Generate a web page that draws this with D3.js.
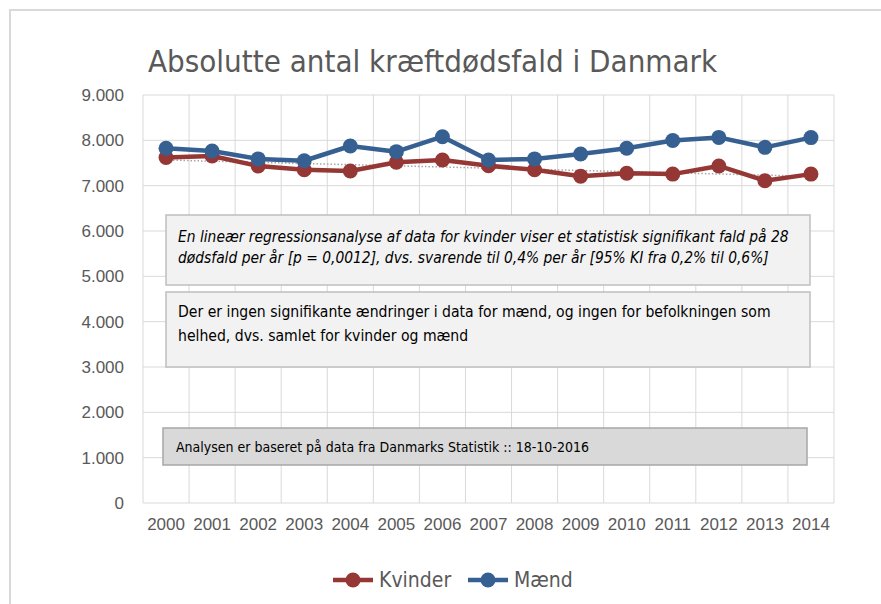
<!DOCTYPE html>
<meta charset="utf-8">
<style>
    body { margin: 0; background: #fff; }
    svg { display: block; font-family: "Liberation Sans Narrow", "DejaVu Sans Condensed", "Liberation Sans", sans-serif; }
    .grid line { stroke: #d9d9d9; stroke-width: 1; }
    .axis text { fill: #595959; }
</style>
<body>
<svg width="881" height="604"></svg>
<script src="https://d3js.org/d3.v7.min.js"></script>
<script>
    // data
    const years = ["2000", "2001", "2002", "2003", "2004", "2005", "2006", "2007",
                   "2008", "2009", "2010", "2011", "2012", "2013", "2014"];
    const kvinder = [7620, 7655, 7435, 7350, 7325, 7515, 7565, 7440, 7350, 7210, 7275, 7255, 7435, 7110, 7255];
    const maend = [7825, 7765, 7590, 7550, 7875, 7750, 8080, 7565, 7590, 7700, 7825, 7995, 8065, 7845, 8060];
    const yTicks = [0, 1000, 2000, 3000, 4000, 5000, 6000, 7000, 8000, 9000];

    const seriesNames = ["Kvinder", "Mænd"];
    const seriesColors = { "Kvinder": "#953735", "Mænd": "#376092" };

    const title = "Absolutte antal kræftdødsfald i Danmark";
    const note1 = ["En lineær regressionsanalyse af data for kvinder viser et statistisk signifikant fald på 28",
                   "dødsfald per år [p = 0,0012], dvs. svarende til 0,4% per år [95% KI fra 0,2% til 0,6%]"];
    const note2 = ["Der er ingen signifikante ændringer i data for mænd, og ingen for befolkningen som",
                   "helhed, dvs. samlet for kvinder og mænd"];
    const note3 = "Analysen er baseret på data fra Danmarks Statistik :: 18-10-2016";

    const svg = d3.select("svg");
    const margin = { top: 95, right: 47, bottom: 101, left: 143 };
    const width = +svg.attr("width");
    const height = +svg.attr("height");

    // chart frame
    svg.append("rect")
        .attr("x", 10).attr("y", 10)
        .attr("width", 900).attr("height", 620)
        .attr("fill", "#fff").attr("stroke", "#d9d9d9").attr("stroke-width", 2);

    svg.append("text")
        .attr("x", 148).attr("y", 72)
        .attr("font-size", 31).attr("fill", "#595959")
        .text(title);

    const x = d3.scaleBand().domain(years)
        .range([margin.left, width - margin.right]);
    const y = d3.scaleLinear().domain([0, 9000])
        .range([height - margin.bottom, margin.top]);

    // horizontal gridlines
    svg.append("g").attr("class", "grid")
        .selectAll("line").data(yTicks).join("line")
        .attr("x1", margin.left).attr("x2", width - margin.right)
        .attr("y1", d => y(d)).attr("y2", d => y(d));

    // vertical gridlines at category borders
    const borders = years.map(d => x(d)).concat([x(years[years.length - 1]) + x.bandwidth()]);
    svg.append("g").attr("class", "grid")
        .selectAll("line").data(borders).join("line")
        .attr("x1", d => d).attr("x2", d => d)
        .attr("y1", y(9000)).attr("y2", y(0));

    const fmt = d3.formatLocale({ decimal: ",", thousands: ".", grouping: [3], currency: ["", " kr."] }).format(",d");

    const yAxis = svg.append("g").attr("class", "axis")
        .attr("transform", `translate(${margin.left - 19},0)`)
        .call(d3.axisLeft(y).tickValues(yTicks).tickFormat(fmt).tickSize(0).tickPadding(0));
    yAxis.select(".domain").remove();
    yAxis.selectAll("text").attr("font-size", 17).attr("font-family", null);

    const xAxis = svg.append("g").attr("class", "axis")
        .attr("transform", `translate(0,${y(0) + 12})`)
        .call(d3.axisBottom(x).tickSize(0).tickPadding(0));
    xAxis.select(".domain").remove();
    xAxis.selectAll("text").attr("font-size", 17).attr("font-family", null).attr("dy", "0.9em");

    // trend line for kvinder (least squares)
    const idx = years.map((d, i) => i);
    const mx = d3.mean(idx), my = d3.mean(kvinder);
    const slope = d3.sum(idx, i => (i - mx) * (kvinder[i] - my)) / d3.sum(idx, i => (i - mx) * (i - mx));
    const icpt = my - slope * mx;
    svg.append("line")
        .attr("x1", x(years[0]) + x.bandwidth() / 2)
        .attr("x2", x(years[years.length - 1]) + x.bandwidth() / 2)
        .attr("y1", y(icpt))
        .attr("y2", y(icpt + slope * (years.length - 1)))
        .attr("stroke", "#a6a6a6").attr("stroke-width", 1.5)
        .attr("stroke-dasharray", "1.5,2");

    const series = [
        { name: "Kvinder", values: kvinder },
        { name: "Mænd", values: maend }
    ];

    const line = d3.line()
        .x((d, i) => x(years[i]) + x.bandwidth() / 2)
        .y(d => y(d));

    series.forEach(s => {
        const g = svg.append("g");
        g.append("path")
            .attr("d", line(s.values))
            .attr("fill", "none")
            .attr("stroke", seriesColors[s.name])
            .attr("stroke-width", 4.5)
            .attr("stroke-linejoin", "round");
        g.selectAll("circle").data(s.values).join("circle")
            .attr("cx", (d, i) => x(years[i]) + x.bandwidth() / 2)
            .attr("cy", d => y(d))
            .attr("r", 7.5)
            .attr("fill", seriesColors[s.name]);
    });

    // text boxes
    function noteBox(bx, by, bw, bh, fill, stroke, lines, opts) {
        const g = svg.append("g");
        g.append("rect")
            .attr("x", bx).attr("y", by).attr("width", bw).attr("height", bh)
            .attr("fill", fill).attr("stroke", stroke).attr("stroke-width", 1.5);
        g.selectAll("text").data(lines).join("text")
            .attr("x", bx + opts.pad)
            .attr("y", (d, i) => by + opts.first + i * opts.lh)
            .attr("font-size", opts.size)
            .attr("font-style", opts.italic ? "italic" : null)
            .attr("fill", "#000")
            .text(d => d);
    }
    noteBox(166, 215, 644, 70, "#f2f2f2", "#bfbfbf", note1, { pad: 12, first: 27, lh: 21, size: 15.4, italic: true });
    noteBox(166, 292, 644, 75, "#f2f2f2", "#bfbfbf", note2, { pad: 12, first: 25, lh: 24, size: 15.6 });
    noteBox(163, 428, 644, 37, "#d9d9d9", "#a6a6a6", [note3], { pad: 13, first: 24, lh: 0, size: 14 });

    // legend
    const legend = svg.append("g").attr("transform", "translate(333,580)");
    const legendX = [0, 135];
    seriesNames.forEach((n, i) => {
        const g = legend.append("g").attr("transform", `translate(${legendX[i]},0)`);
        g.append("line").attr("x1", 0).attr("x2", 40).attr("y1", 0).attr("y2", 0)
            .attr("stroke", seriesColors[n]).attr("stroke-width", 4.5);
        g.append("circle").attr("cx", 20).attr("cy", 0).attr("r", 7.5).attr("fill", seriesColors[n]);
        g.append("text").attr("x", 46).attr("y", 7).attr("font-size", 21).attr("fill", "#595959").text(n);
    });
</script>
</body>
